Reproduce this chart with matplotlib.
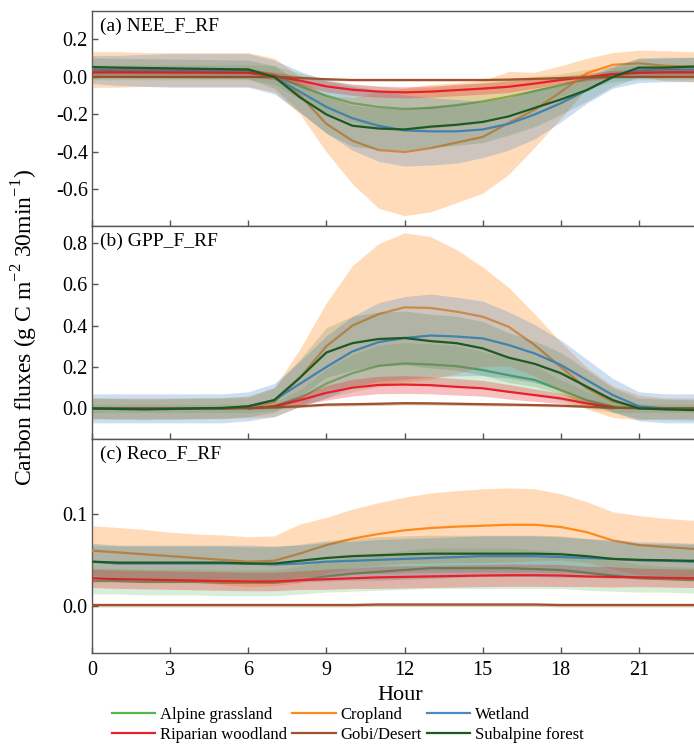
import numpy as np
import matplotlib
matplotlib.use("Agg")
import matplotlib.pyplot as plt

plt.rcParams['font.family'] = 'serif'
plt.rcParams['font.serif'] = ['Liberation Serif', 'DejaVu Serif']
plt.rcParams['mathtext.fontset'] = 'custom'
plt.rcParams['mathtext.rm'] = 'Liberation Serif'

HOURS = np.arange(0, 25)
nan = np.nan

SITES = ['Alpine grassland', 'Cropland', 'Wetland',
         'Riparian woodland', 'Gobi/Desert', 'Subalpine forest']
COLORS = ['#55b54f', '#ff8a1c', '#4a89c6', '#e8202a', '#a0522d', '#1b5a22']
BAND_ALPHA = [0.22, 0.3, 0.28, 0.28, 0.3, 0.15]

# ---- (a) NEE ----
nee_alpine = [0.025, 0.025, 0.025, 0.025, 0.025, 0.025, 0.025, 0.01, -0.05, -0.1, -0.14, -0.16, -0.17,
              -0.165, -0.15, -0.13, -0.105, -0.075, -0.043, -0.01, 0.015, 0.025, 0.025, 0.025, 0.025]
nee_alpine_sd = [0.04, 0.04, 0.04, 0.04, 0.04, 0.04, 0.04, 0.05, 0.07, 0.09, 0.1, 0.11, 0.11,
                 0.11, 0.11, 0.1, 0.09, 0.08, 0.06, 0.05, 0.04, 0.04, 0.04, 0.04, 0.04]
nee_crop = [0.04, 0.04, 0.04, 0.04, 0.04, 0.04, 0.04, 0.01, -0.1, -0.25, -0.34, -0.39, -0.40,
            -0.38, -0.35, -0.32, -0.245, -0.175, -0.08, 0.02, 0.065, 0.073, 0.06, 0.055, 0.05]
nee_crop_sd = [0.095, 0.095, 0.09, 0.09, 0.09, 0.09, 0.09, 0.09, 0.1, 0.15, 0.23, 0.31, 0.34,
               0.34, 0.32, 0.30, 0.275, 0.2, 0.14, 0.08, 0.065, 0.07, 0.08, 0.08, 0.08]
nee_wet = [0.04, 0.035, 0.035, 0.035, 0.035, 0.035, 0.035, 0.0, -0.08, -0.16, -0.22, -0.26, -0.285,
           -0.29, -0.29, -0.28, -0.25, -0.2, -0.14, -0.07, 0.0, 0.035, 0.04, 0.04, 0.04]
nee_wet_sd = [0.075, 0.08, 0.085, 0.09, 0.09, 0.09, 0.09, 0.09, 0.11, 0.14, 0.17, 0.19, 0.19,
              0.18, 0.17, 0.15, 0.14, 0.13, 0.1, 0.07, 0.06, 0.065, 0.065, 0.065, 0.065]
nee_rip = [0.025, 0.025, 0.025, 0.024, 0.024, 0.023, 0.022, 0.005, -0.02, -0.05, -0.068, -0.078, -0.082,
           -0.078, -0.07, -0.062, -0.052, -0.035, -0.016, 0.0, 0.015, 0.022, 0.025, 0.025, 0.025]
nee_rip_sd = [0.02, 0.02, 0.02, 0.02, 0.02, 0.02, 0.02, 0.02, 0.025, 0.03, 0.03, 0.03, 0.03,
              0.03, 0.03, 0.03, 0.03, 0.025, 0.02, 0.02, 0.02, 0.02, 0.02, 0.02, 0.02]
nee_gobi = [0.0, 0.0, 0.0, 0.0, 0.0, 0.0, 0.0, 0.0, -0.005, -0.012, -0.016, -0.016, -0.016,
            -0.016, -0.016, -0.016, -0.014, -0.01, -0.006, -0.002, 0.0, 0.0, 0.0, 0.0, 0.0]
nee_gobi_sd = [0.004, 0.004, 0.004, 0.004, 0.004, 0.004, 0.004, 0.004, 0.005, 0.006, 0.006, 0.006, 0.006,
               0.006, 0.006, 0.006, 0.006, 0.005, 0.005, 0.004, 0.004, 0.004, 0.004, 0.004, 0.004]
nee_sub = [0.053, 0.05, 0.048, 0.046, 0.044, 0.042, 0.04, 0.0, -0.11, -0.2, -0.26, -0.275, -0.28,
           -0.265, -0.255, -0.24, -0.21, -0.165, -0.12, -0.07, 0.0, 0.05, 0.05, 0.055, 0.058]
nee_sub_sd = [0.05, 0.05, 0.05, 0.05, 0.05, 0.05, 0.05, 0.06, 0.08, 0.1, 0.11, 0.11, 0.11,
              0.11, 0.11, 0.11, 0.1, 0.1, 0.08, 0.06, 0.05, 0.05, 0.05, 0.05, 0.05]

# ---- (b) GPP ----
gpp_alpine = [0.0, 0.0, 0.0, 0.0, 0.0, 0.0, 0.0, 0.01, 0.05, 0.12, 0.17, 0.205, 0.217,
              0.212, 0.204, 0.185, 0.16, 0.137, 0.088, 0.04, 0.01, 0.0, 0.0, 0.0, 0.0]
gpp_alpine_sd = [0.02, 0.02, 0.02, 0.02, 0.02, 0.02, 0.02, 0.02, 0.04, 0.07, 0.09, 0.1, 0.1,
                 0.1, 0.1, 0.09, 0.08, 0.07, 0.05, 0.04, 0.03, 0.02, 0.02, 0.02, 0.02]
gpp_crop = [0.0, 0.0, 0.0, 0.0, 0.0, 0.0, 0.005, 0.03, 0.15, 0.3, 0.4, 0.455, 0.488,
            0.485, 0.467, 0.443, 0.394, 0.306, 0.2, 0.097, 0.032, 0.005, 0.0, 0.0, 0.0]
gpp_crop_sd = [0.05, 0.05, 0.05, 0.05, 0.05, 0.05, 0.05, 0.07, 0.14, 0.21, 0.29, 0.34, 0.36,
               0.345, 0.3, 0.24, 0.19, 0.15, 0.12, 0.1, 0.076, 0.06, 0.05, 0.05, 0.05]
gpp_wet = [0.0, 0.0, 0.0, 0.0, 0.0, 0.0, 0.01, 0.04, 0.12, 0.2, 0.275, 0.32, 0.34,
           0.352, 0.347, 0.338, 0.306, 0.265, 0.21, 0.137, 0.064, 0.01, 0.0, 0.0, 0.0]
gpp_wet_sd = [0.07, 0.07, 0.07, 0.07, 0.07, 0.07, 0.07, 0.08, 0.11, 0.15, 0.17, 0.19, 0.2,
              0.2, 0.19, 0.18, 0.16, 0.14, 0.12, 0.1, 0.08, 0.07, 0.07, 0.07, 0.07]
gpp_rip = [nan, nan, nan, nan, nan, nan, 0.0, 0.01, 0.04, 0.075, 0.1, 0.113, 0.115,
           0.112, 0.104, 0.097, 0.08, 0.064, 0.048, 0.024, 0.005, nan, nan, nan, nan]
gpp_rip_sd = [0.005, 0.005, 0.005, 0.005, 0.005, 0.005, 0.005, 0.01, 0.025, 0.035, 0.04, 0.042, 0.043,
              0.042, 0.04, 0.038, 0.035, 0.03, 0.025, 0.018, 0.01, 0.005, 0.005, 0.005, 0.005]
gpp_gobi = [0.0, 0.0, 0.0, 0.0, 0.0, 0.0, 0.002, 0.005, 0.01, 0.018, 0.02, 0.022, 0.025,
            0.024, 0.022, 0.02, 0.018, 0.016, 0.013, 0.008, 0.003, 0.001, 0.0, 0.0, 0.0]
gpp_gobi_sd = [0.004, 0.004, 0.004, 0.004, 0.004, 0.004, 0.004, 0.005, 0.006, 0.007, 0.008, 0.008, 0.008,
               0.008, 0.008, 0.008, 0.007, 0.007, 0.006, 0.005, 0.004, 0.004, 0.004, 0.004, 0.004]
gpp_sub = [0.0, -0.003, -0.005, -0.003, 0.0, 0.002, 0.01, 0.04, 0.15, 0.27, 0.315, 0.335, 0.34,
           0.325, 0.315, 0.29, 0.245, 0.215, 0.17, 0.105, 0.04, 0.0, -0.005, -0.008, -0.01]
gpp_sub_sd = [0.05, 0.05, 0.05, 0.05, 0.05, 0.05, 0.05, 0.06, 0.09, 0.12, 0.13, 0.13, 0.13,
              0.13, 0.13, 0.13, 0.12, 0.11, 0.1, 0.08, 0.06, 0.05, 0.05, 0.05, 0.05]

# ---- (c) Reco ----
reco_alpine = [0.027, 0.027, 0.026, 0.026, 0.026, 0.025, 0.025, 0.025, 0.028, 0.032, 0.035, 0.037, 0.039,
               0.041, 0.041, 0.041, 0.041, 0.04, 0.039, 0.036, 0.033, 0.03, 0.029, 0.028, 0.028]
reco_alpine_sd = [0.014, 0.014, 0.014, 0.014, 0.014, 0.014, 0.014, 0.014, 0.015, 0.017, 0.019, 0.02, 0.021,
                  0.022, 0.022, 0.022, 0.022, 0.021, 0.02, 0.019, 0.017, 0.015, 0.014, 0.014, 0.014]
reco_crop = [0.06, 0.058, 0.056, 0.054, 0.052, 0.05, 0.048, 0.049, 0.057, 0.066, 0.073, 0.078, 0.082,
             0.0845, 0.086, 0.087, 0.088, 0.088, 0.0856, 0.08, 0.071, 0.066, 0.064, 0.062, 0.061]
reco_crop_sd = [0.027, 0.027, 0.027, 0.026, 0.026, 0.027, 0.027, 0.027, 0.032, 0.03, 0.032, 0.034, 0.036,
                0.038, 0.039, 0.04, 0.04, 0.039, 0.036, 0.033, 0.031, 0.032, 0.031, 0.031, 0.031]
reco_wet = [0.048, 0.046, 0.046, 0.046, 0.046, 0.046, 0.046, 0.045, 0.046, 0.048, 0.049, 0.05, 0.051,
            0.052, 0.053, 0.054, 0.054, 0.054, 0.053, 0.052, 0.051, 0.0495, 0.049, 0.048, 0.048]
reco_wet_sd = [0.02, 0.02, 0.02, 0.02, 0.02, 0.02, 0.02, 0.02, 0.02, 0.021, 0.021, 0.022, 0.022,
               0.022, 0.022, 0.022, 0.022, 0.022, 0.022, 0.021, 0.021, 0.02, 0.02, 0.02, 0.02]
reco_rip = [0.03, 0.029, 0.0285, 0.028, 0.0275, 0.027, 0.0265, 0.0265, 0.028, 0.029, 0.03, 0.031, 0.0315,
            0.032, 0.0325, 0.033, 0.0333, 0.0333, 0.033, 0.032, 0.0315, 0.031, 0.0305, 0.03, 0.03]
reco_rip_sd = [0.01, 0.01, 0.01, 0.01, 0.01, 0.01, 0.01, 0.01, 0.01, 0.011, 0.011, 0.012, 0.012,
               0.012, 0.012, 0.012, 0.012, 0.012, 0.012, 0.011, 0.011, 0.01, 0.01, 0.01, 0.01]
reco_gobi = [0.001, 0.001, 0.001, 0.001, 0.001, 0.001, 0.001, 0.001, 0.001, 0.001, 0.001, 0.0015, 0.0015,
             0.0015, 0.0015, 0.0015, 0.0015, 0.0015, 0.001, 0.001, 0.001, 0.001, 0.001, 0.001, 0.001]
reco_gobi_sd = [0.002, 0.002, 0.002, 0.002, 0.002, 0.002, 0.002, 0.002, 0.002, 0.002, 0.002, 0.002, 0.002,
                0.002, 0.002, 0.002, 0.002, 0.002, 0.002, 0.002, 0.002, 0.002, 0.002, 0.002, 0.002]
reco_sub = [0.048, 0.047, 0.047, 0.047, 0.047, 0.047, 0.046, 0.046, 0.049, 0.052, 0.054, 0.055, 0.056,
            0.0567, 0.0567, 0.0567, 0.0567, 0.0567, 0.056, 0.054, 0.051, 0.05, 0.0495, 0.049, 0.049]
reco_sub_sd = [0.018, 0.018, 0.018, 0.018, 0.018, 0.018, 0.018, 0.018, 0.018, 0.019, 0.019, 0.02, 0.02,
               0.02, 0.02, 0.02, 0.02, 0.02, 0.02, 0.019, 0.019, 0.018, 0.018, 0.018, 0.018]

PANELS = [
    {'label': '(a) NEE_F_RF', 'ylim': (-0.795, 0.352), 'yticks': [-0.6, -0.4, -0.2, 0.0, 0.2],
     'mean': [nee_alpine, nee_crop, nee_wet, nee_rip, nee_gobi, nee_sub],
     'sd': [nee_alpine_sd, nee_crop_sd, nee_wet_sd, nee_rip_sd, nee_gobi_sd, nee_sub_sd]},
    {'label': '(b) GPP_F_RF', 'ylim': (-0.148, 0.881), 'yticks': [0.0, 0.2, 0.4, 0.6, 0.8],
     'mean': [gpp_alpine, gpp_crop, gpp_wet, gpp_rip, gpp_gobi, gpp_sub],
     'sd': [gpp_alpine_sd, gpp_crop_sd, gpp_wet_sd, gpp_rip_sd, gpp_gobi_sd, gpp_sub_sd]},
    {'label': '(c) Reco_F_RF', 'ylim': (-0.051, 0.181), 'yticks': [0.0, 0.1],
     'mean': [reco_alpine, reco_crop, reco_wet, reco_rip, reco_gobi, reco_sub],
     'sd': [reco_alpine_sd, reco_crop_sd, reco_wet_sd, reco_rip_sd, reco_gobi_sd, reco_sub_sd]},
]

W, H = 694, 749
fig = plt.figure(figsize=(W / 100, H / 100), dpi=100)

left = 92 / W
width = 625 / W
tops = [11, 226, 439]
bottoms = [226, 439, 653]
SPINE = '#555555'

handles = []
for p, (panel, t, b) in enumerate(zip(PANELS, tops, bottoms)):
    ax = fig.add_axes([left, 1 - b / H, width, (b - t) / H])
    for i, (m, s) in enumerate(zip(panel['mean'], panel['sd'])):
        m = np.array(m, dtype=float)
        s = np.array(s, dtype=float)
        ax.fill_between(HOURS, m - s, m + s, color=COLORS[i], alpha=BAND_ALPHA[i],
                        linewidth=0, zorder=2 * i + 1)
        ln, = ax.plot(HOURS, m, color=COLORS[i], lw=1.6, zorder=2 * i + 2,
                      label=SITES[i])
        if p == 0:
            handles.append(ln)
    ax.set_xlim(0, 24)
    ax.set_ylim(*panel['ylim'])
    ax.set_xticks(np.arange(0, 22, 3))
    ax.set_yticks(panel['yticks'])
    ax.set_yticklabels(['%.1f' % v for v in panel['yticks']])
    ax.tick_params(direction='in', length=4, width=1, color=SPINE,
                   labelsize=14.5)
    ax.tick_params(axis='y', pad=3)
    ax.tick_params(axis='x', pad=6)
    if p < 2:
        ax.tick_params(axis='x', labelbottom=False)
    for sp in ax.spines.values():
        sp.set_color(SPINE)
        sp.set_linewidth(1.0)
    ax.spines['right'].set_visible(False)
    ax.annotate(panel['label'], xy=(0, 1), xycoords='axes fraction',
                xytext=(6, -5), textcoords='offset points',
                ha='left', va='top', fontsize=14)

fig.text(25 / W, 1 - 328 / H, 'Carbon fluxes (g C m$^{-2}$ 30min$^{-1}$)',
         rotation=90, ha='center', va='center', fontsize=17)
fig.text(400 / W, 1 - 700 / H, 'Hour', ha='center', va='baseline', fontsize=16)

order = [0, 3, 1, 4, 2, 5]
fig.legend([handles[k] for k in order], [SITES[k] for k in order],
           loc='center left', bbox_to_anchor=(112 / W, 1 - 725 / H),
           ncol=3, frameon=False, fontsize=12, handlelength=2.6,
           handletextpad=0.3, columnspacing=0.3, labelspacing=0.2,
           borderpad=0, borderaxespad=0)

fig.savefig('out.png', dpi=100)
